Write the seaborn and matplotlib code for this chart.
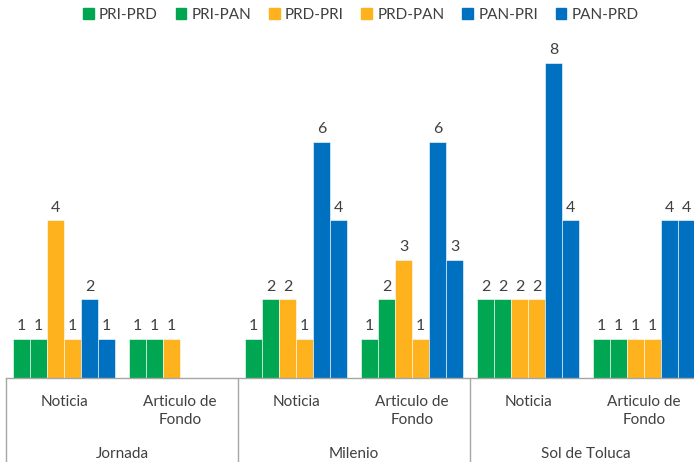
import matplotlib
matplotlib.use("Agg")
import matplotlib.pyplot as plt
import matplotlib.transforms as mtransforms
from matplotlib.lines import Line2D
import seaborn as sns
import pandas as pd
import numpy as np

sns.set_theme(style="white")
plt.rcParams['font.family'] = ['Lato', 'DejaVu Sans']

groups = ["Jornada", "Jornada", "Milenio", "Milenio", "Sol de Toluca", "Sol de Toluca"]
subcats = ["Noticia", "Articulo de\nFondo", "Noticia", "Articulo de\nFondo", "Noticia", "Articulo de\nFondo"]
series = ["PRI-PRD", "PRI-PAN", "PRD-PRI", "PRD-PAN", "PAN-PRI", "PAN-PRD"]
pri_prd = [1, 1, 1, 1, 2, 1]
pri_pan = [1, 1, 2, 2, 2, 1]
prd_pri = [4, 1, 2, 3, 2, 1]
prd_pan = [1, np.nan, 1, 1, 2, 1]
pan_pri = [2, np.nan, 6, 6, 8, 4]
pan_prd = [1, np.nan, 4, 3, 4, 4]
colors = ["#00A651", "#00A651", "#FDB21E", "#FDB21E", "#0070C0", "#0070C0"]

values = [pri_prd, pri_pan, prd_pri, prd_pan, pan_pri, pan_prd]
keys = [f"{g}|{s}" for g, s in zip(groups, subcats)]
rows = []
for sname, vals in zip(series, values):
    for k, v in zip(keys, vals):
        rows.append({"cat": k, "serie": sname, "valor": v})
df = pd.DataFrame(rows)

W, H = 694, 462
fig = plt.figure(figsize=(W / 100, H / 100), dpi=100)
ax_left, ax_right = 6, 702
ax_bottom, ax_top = 378, 23.6
ax = fig.add_axes([ax_left / W, (H - ax_bottom) / H, (ax_right - ax_left) / W, (ax_bottom - ax_top) / H])

sns.barplot(data=df, x="cat", y="valor", hue="serie", order=keys, hue_order=series,
            palette=colors, width=0.88, ax=ax, edgecolor="white", linewidth=0.4,
            saturation=1, errorbar=None)

for cont in ax.containers:
    labels = []
    for bar in cont:
        h = bar.get_height()
        labels.append("" if (h is None or np.isnan(h)) else f"{h:g}")
    ax.bar_label(cont, labels=labels, padding=4, fontsize=11.5, color="#404040")

ax.set_xlim(-0.5, 5.5)
ax.set_ylim(0, 9)
ax.set_xlabel("")
ax.set_ylabel("")
ax.set_xticks([])
ax.set_yticks([])
for s in ["top", "right", "left"]:
    ax.spines[s].set_visible(False)
ax.spines["bottom"].set_color("#A6A6A6")
ax.spines["bottom"].set_linewidth(1)

trans = mtransforms.blended_transform_factory(ax.transData, fig.transFigure)
for i, s in enumerate(subcats):
    ax.text(i, 1 - 395 / H, s, transform=trans, ha="center", va="top",
            fontsize=11, color="#404040", linespacing=1.4)
for j, g in enumerate(["Jornada", "Milenio", "Sol de Toluca"]):
    ax.text(2 * j + 0.5, 1 - 454 / H, g, transform=trans, ha="center", va="center",
            fontsize=11, color="#404040")
for xb in [-0.5, 1.5, 3.5]:
    fig.add_artist(Line2D([xb, xb], [1 - 378 / H, 0], transform=trans,
                          color="#A6A6A6", linewidth=1))

ax.legend_.remove()
handles = [plt.Rectangle((0, 0), 1, 1, color=c) for c in colors]
fig.legend(handles, series, loc="center", bbox_to_anchor=(0.52, 1 - 15 / H), ncol=6,
           frameon=False, fontsize=11, handlelength=0.7, handleheight=0.7,
           handletextpad=0.35, columnspacing=1.15, labelcolor="#404040")

fig.savefig("out.png", dpi=100)
